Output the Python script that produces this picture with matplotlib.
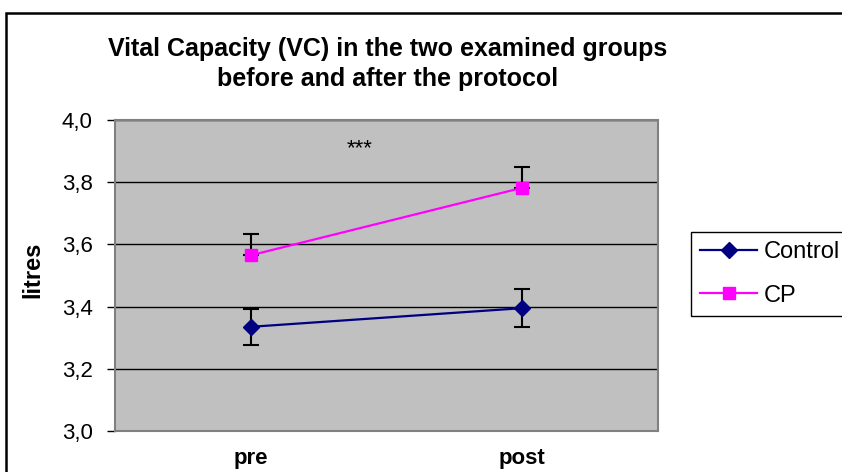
import numpy as np
import matplotlib.pyplot as plt
from matplotlib.patches import Rectangle

plt.rcParams['font.family'] = ['Liberation Sans', 'DejaVu Sans']

phases = ['pre', 'post']
control_mean = [3.335, 3.395]
control_err = [0.058, 0.062]
cp_mean = [3.565, 3.782]
cp_err = [0.067, 0.068]
y_ticks = [3.0, 3.2, 3.4, 3.6, 3.8, 4.0]
y_labels = ['3,0', '3,2', '3,4', '3,6', '3,8', '4,0']

fig = plt.figure(figsize=(8.42, 4.72), dpi=100)
ax = fig.add_axes([115/842, 1 - 431/472, 543/842, 311/472])
ax.set_facecolor('#c0c0c0')

x = np.arange(len(phases))

# Control: error bars both directions
ax.errorbar(x, control_mean, yerr=control_err, fmt='none', ecolor='black',
            elinewidth=1.5, capsize=6, capthick=1.5, zorder=3)
ax.plot(x, control_mean, color='#000080', lw=1.6, marker='D', markersize=8.5,
        label='Control', zorder=4)

# CP: only the upper half of the error bar
ax.errorbar(x, cp_mean, yerr=[np.zeros(len(cp_err)), cp_err], fmt='none',
            ecolor='black', elinewidth=1.5, capsize=6, capthick=1.5, zorder=3)
ax.plot(x, cp_mean, color='#ff00ff', lw=1.6, marker='s', markersize=8,
        label='CP', zorder=4)

ax.text(0.4, 3.907, '***', ha='center', va='center', fontsize=16)

ax.set_xlim(-0.5, 1.5)
ax.set_ylim(3.0, 4.0)
ax.set_yticks(y_ticks)
ax.set_yticklabels(y_labels, fontsize=16)
ax.set_xticks(x)
ax.set_xticklabels(phases, fontsize=16, fontweight='bold')
ax.tick_params(axis='y', length=6, width=1, pad=10)
ax.tick_params(axis='x', length=0, pad=12)
ax.grid(axis='y', color='black', lw=1)
ax.set_axisbelow(True)
for s in ax.spines.values():
    s.set_color('#808080')
    s.set_linewidth(1.5)

fig.text(388/842, 1 - 64/472,
         'Vital Capacity (VC) in the two examined groups\nbefore and after the protocol',
         ha='center', va='center', fontsize=18, fontweight='bold', linespacing=1.3)
fig.text(33/842, 1 - 270/472, 'litres', rotation=90, ha='center', va='center',
         fontsize=17, fontweight='bold')

leg = ax.legend(loc='upper left', bbox_to_anchor=(691/842, 1 - 232/472),
                bbox_transform=fig.transFigure, fontsize=17, frameon=True,
                fancybox=False, edgecolor='black', framealpha=1,
                handlelength=2.4, handletextpad=0.3, borderpad=0.4,
                labelspacing=0.9, borderaxespad=0)
leg.get_frame().set_linewidth(1)

# outer chart border (cut off on the right and bottom)
fig.add_artist(Rectangle((6/842, -0.1), 1.0, (472 - 13)/472 + 0.1,
                         transform=fig.transFigure, fill=False,
                         edgecolor='black', lw=1.8, clip_on=False))

fig.savefig('out.png', dpi=100)
